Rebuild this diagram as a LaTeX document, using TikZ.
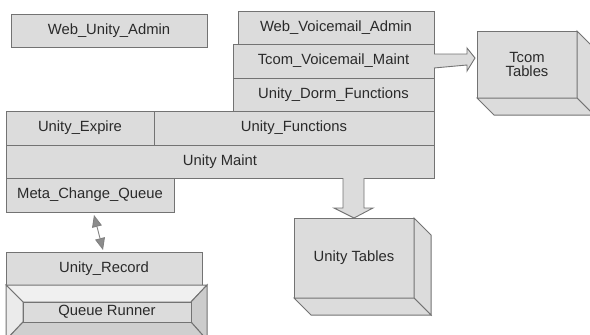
\documentclass[tikz,border=0pt]{standalone}
\usepackage{fontspec}
\setmainfont{Liberation Sans}
\usetikzlibrary{calc,arrows.meta}
\definecolor{boxfill}{HTML}{DCDCDC}
\definecolor{boxline}{HTML}{737373}
\definecolor{txt}{HTML}{2A2A2A}
\begin{document}
\begin{tikzpicture}[x=1pt,y=-1pt,
  box/.style={draw=boxline,line width=1pt,fill=boxfill,inner sep=0pt,outer sep=0pt,
    text=txt,font=\fontsize{14.8}{16}\selectfont},
  side/.style={draw=boxline,line width=1pt,fill=#1},
  blockarrow/.style={draw=boxline,line width=0.9pt,fill=boxfill}]
\useasboundingbox (0,0) rectangle (590,335);
\clip (0,0) rectangle (590,335);
% boxes
\node[box,minimum width=196pt,minimum height=33pt] (wua) at (109,30.5) {Web\_Unity\_Admin};
\node[box,minimum width=196pt,minimum height=33pt] (wva) at (336,27.5) {Web\_Voicemail\_Admin};
\node[box,minimum width=201pt,minimum height=34pt] (tvm) at (333.5,61) {Tcom\_Voicemail\_Maint};
\node[box,minimum width=201pt,minimum height=33pt] (udf) at (333.5,94.5) {Unity\_Dorm\_Functions};
\node[box,minimum width=148pt,minimum height=34pt] (uex) at (80,128) {Unity\_Expire};
\node[box,minimum width=280pt,minimum height=34pt] (ufn) at (294,128) {Unity\_Functions};
\node[box,minimum width=428pt,minimum height=33pt] (um) at (220,161.5) {Unity Maint};
\node[box,minimum width=168pt,minimum height=34pt] (mcq) at (90,195) {Meta\_Change\_Queue};
\node[box,minimum width=196pt,minimum height=33pt] (ur) at (104,268.5) {Unity\_Record};
% queue runner bevel frame
\coordinate (qo1) at (6,285); \coordinate (qo2) at (207,285);
\coordinate (qo3) at (207,340); \coordinate (qo4) at (6,340);
\coordinate (qi1) at (23,302); \coordinate (qi2) at (191,302);
\coordinate (qi3) at (191,322); \coordinate (qi4) at (23,322);
\filldraw[side=black!6] (qo1)--(qo2)--(qi2)--(qi1)--cycle;
\filldraw[side=black!8] (qo1)--(qi1)--(qi4)--(qo4)--cycle;
\filldraw[side=black!20] (qo2)--(qo3)--(qi3)--(qi2)--cycle;
\filldraw[side=black!19] (qi4)--(qi3)--(qo3)--(qo4)--cycle;
\node[box,minimum width=168pt,minimum height=20pt] (qr) at (107,312) {Queue Runner};
% Tcom tables
\node[box,minimum width=100pt,minimum height=67pt,align=center] (tt) at (527,64.5) {Tcom\\[-2pt]Tables};
\filldraw[side=boxfill] (tt.north east)--++(17,17)--++(0,67)--(tt.south east)--cycle;
\filldraw[side=boxfill] (tt.south west)--(tt.south east)--++(17,17)--++(-100,0)--cycle;
% Unity tables
\node[box,minimum width=120pt,minimum height=80pt] (ut) at (354,258) {Unity Tables};
\filldraw[side=boxfill] (ut.north east)--++(17,17)--++(0,80)--(ut.south east)--cycle;
\filldraw[side=boxfill] (ut.south west)--(ut.south east)--++(17,17)--++(-120,0)--cycle;
% block arrow to Tcom tables
\filldraw[blockarrow] ($(tvm.east)+(0,-7)$) -- ++(33,0) -- ++(0,-6) -- ($(tt.west)+(-2,-6.5)$)
  -- ++(-8,13) -- ++(0,-6) -- ($(tvm.east)+(0,7)$);
% block arrow to Unity tables
\filldraw[blockarrow] ($(um.south)+(123,0)$) -- ++(0,30) -- ++(-9,0) -- (ut.north)
  -- ++(19,-10) -- ++(-9,0) -- ++(0,-30);
% double arrow
\draw[boxline!90,line width=0.9pt,
  {Triangle[length=12pt,width=10pt,fill=black!45]}-{Triangle[length=12pt,width=10pt,fill=black!45]}]
  ($(mcq.south)+(4,3)$) -- ($(ur.north)+(-1,-2)$);
\end{tikzpicture}
\end{document}
